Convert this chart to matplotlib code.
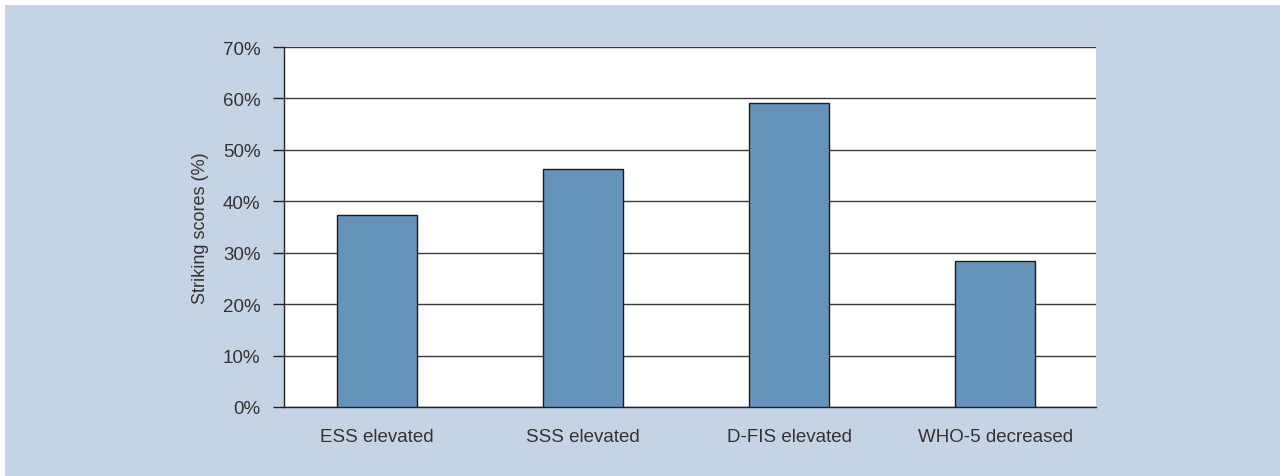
import matplotlib
matplotlib.use("Agg")
import matplotlib.pyplot as plt
from matplotlib.patches import Rectangle
from matplotlib.ticker import PercentFormatter

categories = ["ESS elevated", "SSS elevated", "D-FIS elevated", "WHO-5 decreased"]
values = [37.4, 46.3, 59.1, 28.4]
y_ticks = [0, 10, 20, 30, 40, 50, 60, 70]

bg = "#c6d3e4"
bar_color = "#6693bb"
text_color = "#333333"

plt.rcParams["font.family"] = ["Liberation Sans", "DejaVu Sans"]

fig = plt.figure(figsize=(12.8, 4.77), dpi=100)
fig.patch.set_facecolor(bg)
# thin white margin along the top and left edges
fig.patches.append(Rectangle((0, 1 - 6 / 477), 1, 6 / 477, transform=fig.transFigure,
                             facecolor="white", edgecolor="none", zorder=0))
fig.patches.append(Rectangle((0, 0), 5 / 1280, 1, transform=fig.transFigure,
                             facecolor="white", edgecolor="none", zorder=0))

ax = fig.add_axes([284 / 1280, 1 - 408 / 477, (1096 - 284) / 1280, 360 / 477])
ax.set_facecolor("white")

x = range(len(categories))
ax.bar(x, values, width=0.385, color=bar_color, edgecolor="#1a1a1a", linewidth=1.0, zorder=3)

ax.set_xlim(-0.452, 3.49)
ax.set_ylim(0, 70)
ax.set_yticks(y_ticks)
ax.yaxis.set_major_formatter(PercentFormatter(decimals=0))
ax.set_xticks(list(x))
ax.set_xticklabels(categories)

ax.grid(axis="y", color="#3a3a3a", linewidth=1.0, zorder=1)
ax.set_axisbelow(True)

for side in ("top", "right"):
    ax.spines[side].set_visible(False)
for side in ("left", "bottom"):
    ax.spines[side].set_color("#222222")
    ax.spines[side].set_linewidth(1.0)

ax.tick_params(axis="y", length=8, width=1.0, color="#222222", pad=9,
               labelsize=13.5, labelcolor=text_color)
ax.tick_params(axis="x", length=0, pad=15, labelsize=13.5, labelcolor=text_color)

ax.set_ylabel("Striking scores (%)", fontsize=13, color=text_color, labelpad=10)

fig.savefig("out.png", dpi=100, facecolor=fig.get_facecolor())
